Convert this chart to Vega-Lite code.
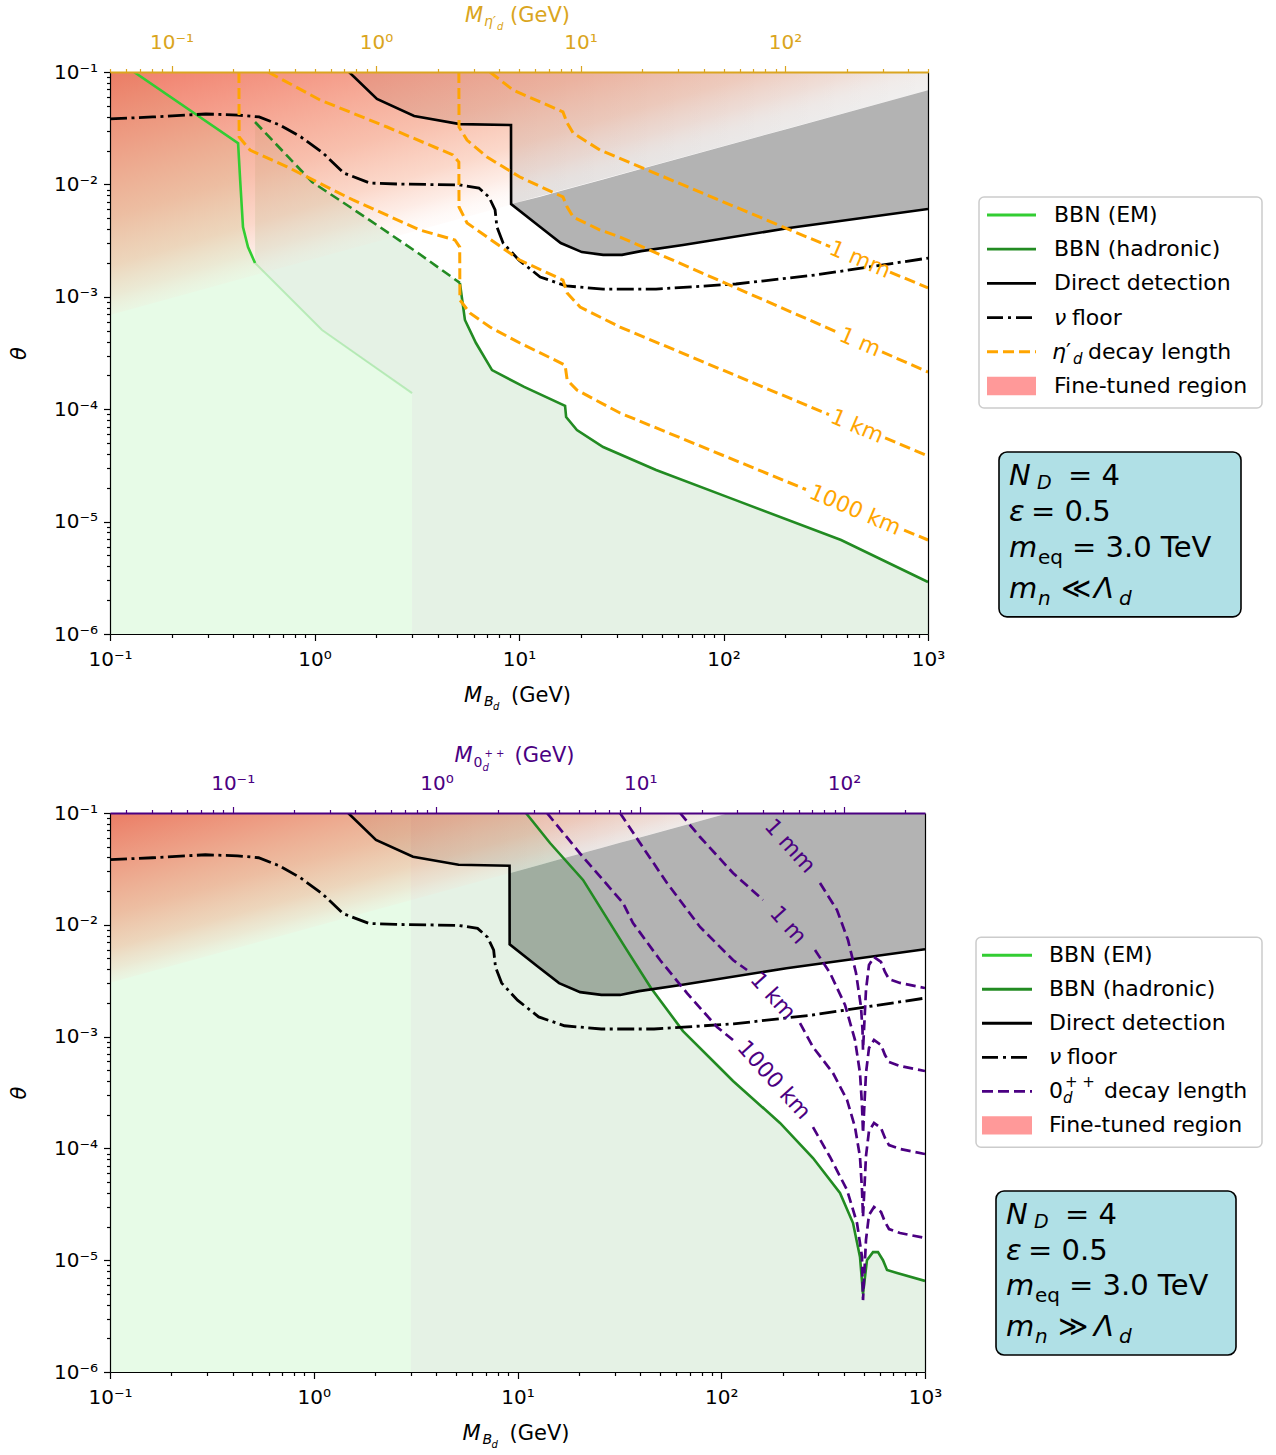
{
"$schema":"https://vega.github.io/schema/vega-lite/v6.json",
"background":"white",
"padding":{"left":8,"top":5,"right":0,"bottom":0},
"config":{"font":"DejaVu Sans","view":{"stroke":null},"axis":{"grid":false,"domainColor":"black","tickColor":"black","labelColor":"black","labelFontSize":20,"titleFontSize":21,"titleFontWeight":"normal","titleColor":"black","domainWidth":1.2,"tickWidth":1.2}},
"datasets":{
"axc":[{"m":0.1,"t":0.000001},{"m":1000,"t":0.1}],
"dd":[{"m":1.475,"t":0.1},{"m":2.02,"t":0.0575},{"m":3.07,"t":0.0406},{"m":5.14,"t":0.0344},{"m":9.14,"t":0.0337},{"m":9.15,"t":0.00669},{"m":12.7,"t":0.00418},{"m":16,"t":0.00301},{"m":20.3,"t":0.0025},{"m":25.8,"t":0.00236},{"m":31.9,"t":0.00236},{"m":39.5,"t":0.00255},{"m":63.4,"t":0.00289},{"m":209,"t":0.00409},{"m":1000,"t":0.00604}],
"nu":[{"m":0.1,"t":0.0382},{"m":0.162,"t":0.0398},{"m":0.294,"t":0.0423},{"m":0.423,"t":0.0414},{"m":0.536,"t":0.0398},{"m":0.678,"t":0.0337},{"m":0.859,"t":0.0264},{"m":1.101,"t":0.019},{"m":1.393,"t":0.0126},{"m":1.868,"t":0.01028},{"m":2.53,"t":0.01008},{"m":5.14,"t":0.00988},{"m":6.37,"t":0.00929},{"m":7.13,"t":0.00773},{"m":7.64,"t":0.00592},{"m":7.8,"t":0.00418},{"m":8.36,"t":0.00301},{"m":10,"t":0.00212},{"m":12.7,"t":0.0015},{"m":17,"t":0.00125},{"m":25.8,"t":0.00117},{"m":46.8,"t":0.00117},{"m":115,"t":0.0013},{"m":280,"t":0.00156},{"m":1000,"t":0.00221}],
"emTop":[{"m":0.131,"t":0.1},{"m":0.423,"t":0.0233},{"m":0.433,"t":0.01094},{"m":0.447,"t":0.00418},{"m":0.473,"t":0.00277},{"m":0.512,"t":0.002}],
"emFaint":[{"m":0.512,"t":0.002},{"m":1.088,"t":0.000507},{"m":3,"t":0.000139}],
"hadDash":[{"m":0.512,"t":0.0359},{"m":0.973,"t":0.0105},{"m":1.766,"t":0.00513},{"m":3.21,"t":0.00245},{"m":5.14,"t":0.00133}],
"hadSolid":[{"m":5.14,"t":0.00133},{"m":5.44,"t":0.000622},{"m":6.16,"t":0.000388},{"m":7.38,"t":0.000223},{"m":10.6,"t":0.000158},{"m":16.8,"t":0.000107},{"m":17,"t":0.0000853},{"m":19.2,"t":0.0000653},{"m":25.8,"t":0.0000461},{"m":46.8,"t":0.0000288},{"m":113.8,"t":0.0000156},{"m":375.8,"t":0.00000686},{"m":1000,"t":0.0000029}],
"aTop":[{"m":0.1,"t":0.1},{"m":0.131,"t":0.1},{"m":0.423,"t":0.0233},{"m":0.433,"t":0.01094},{"m":0.447,"t":0.00418},{"m":0.473,"t":0.00277},{"m":0.512,"t":0.002},{"m":1.088,"t":0.000507},{"m":3,"t":0.000139}],
"bTop":[{"m":0.512,"t":0.0359,"t2":0.002},{"m":0.973,"t":0.0105,"t2":0.00062},{"m":1.088,"t":0.00917,"t2":0.000507},{"m":1.766,"t":0.00513,"t2":0.00027},{"m":3,"t":0.00262,"t2":0.000139},{"m":3.001,"t":0.00262,"t2":0.000001},{"m":3.21,"t":0.00245,"t2":0.000001},{"m":5.14,"t":0.00133,"t2":0.000001},{"m":5.44,"t":0.000622,"t2":0.000001},{"m":6.16,"t":0.000388,"t2":0.000001},{"m":7.38,"t":0.000223,"t2":0.000001},{"m":10.6,"t":0.000158,"t2":0.000001},{"m":16.8,"t":0.000107,"t2":0.000001},{"m":17,"t":0.0000853,"t2":0.000001},{"m":19.2,"t":0.0000653,"t2":0.000001},{"m":25.8,"t":0.0000461,"t2":0.000001},{"m":46.8,"t":0.0000288,"t2":0.000001},{"m":113.8,"t":0.0000156,"t2":0.000001},{"m":375.8,"t":0.00000686,"t2":0.000001},{"m":1000,"t":0.0000029,"t2":0.000001}],
"glTop":[{"m":9.15,"t":0.00669,"t2":0.00669},{"m":12.7,"t":0.00418,"t2":0.00777},{"m":16,"t":0.00301,"t2":0.00872},{"m":20.3,"t":0.0025,"t2":0.00982},{"m":25.8,"t":0.00236,"t2":0.01107},{"m":31.9,"t":0.00236,"t2":0.01231},{"m":39.5,"t":0.00255,"t2":0.0137},{"m":63.4,"t":0.00289,"t2":0.01736},{"m":209,"t":0.00409,"t2":0.0315},{"m":1000,"t":0.00604,"t2":0.0689}],
"ghTop":[{"m":1.475,"t":0.1},{"m":2.02,"t":0.0575},{"m":3.07,"t":0.0406},{"m":5.14,"t":0.0344},{"m":9.14,"t":0.0337},{"m":9.15,"t":0.00669},{"m":1000,"t":0.0689}],
"ftTop":[{"m":0.1,"t":0.00069},{"m":1000,"t":0.0689}],
"orange":[
{"c":"1000km","s":"a","m":0.427,"t":0.1},{"c":"1000km","s":"a","m":0.428,"t":0.0264},{"c":"1000km","s":"a","m":0.484,"t":0.0202},{"c":"1000km","s":"a","m":0.735,"t":0.0143},{"c":"1000km","s":"a","m":1.542,"t":0.00727},{"c":"1000km","s":"a","m":3.28,"t":0.00393},{"c":"1000km","s":"a","m":4.86,"t":0.0032},{"c":"1000km","s":"a","m":5.13,"t":0.00277},{"c":"1000km","s":"a","m":5.14,"t":0.000937},{"c":"1000km","s":"a","m":5.75,"t":0.000718},{"c":"1000km","s":"a","m":7.21,"t":0.000538},{"c":"1000km","s":"a","m":10.1,"t":0.000388},{"c":"1000km","s":"a","m":16.8,"t":0.000247},{"c":"1000km","s":"a","m":17.2,"t":0.000182},{"c":"1000km","s":"a","m":19.2,"t":0.000148},{"c":"1000km","s":"a","m":31.2,"t":0.0000925},{"c":"1000km","s":"a","m":253,"t":0.0000193},
{"c":"1000km","s":"b","m":764,"t":0.0000084},{"c":"1000km","s":"b","m":1000,"t":0.00000686},
{"c":"1km","s":"a","m":0.593,"t":0.1},{"c":"1km","s":"a","m":1.064,"t":0.0564},{"c":"1km","s":"a","m":2.265,"t":0.0324},{"c":"1km","s":"a","m":4.75,"t":0.0183},{"c":"1km","s":"a","m":5.08,"t":0.0158},{"c":"1km","s":"a","m":5.09,"t":0.00629},{"c":"1km","s":"a","m":5.57,"t":0.00454},{"c":"1km","s":"a","m":6.98,"t":0.0034},{"c":"1km","s":"a","m":10.1,"t":0.00212},{"c":"1km","s":"a","m":16.4,"t":0.00141},{"c":"1km","s":"a","m":17.2,"t":0.00108},{"c":"1km","s":"a","m":19.9,"t":0.000811},{"c":"1km","s":"a","m":31.2,"t":0.000538},{"c":"1km","s":"a","m":328,"t":0.0000895},
{"c":"1km","s":"b","m":617,"t":0.0000555},{"c":"1km","s":"b","m":1000,"t":0.0000384},
{"c":"1m","s":"a","m":5.08,"t":0.1},{"c":"1m","s":"a","m":5.09,"t":0.0324},{"c":"1m","s":"a","m":5.57,"t":0.0248},{"c":"1m","s":"a","m":6.98,"t":0.0175},{"c":"1m","s":"a","m":10.1,"t":0.01163},{"c":"1m","s":"a","m":16.4,"t":0.00773},{"c":"1m","s":"a","m":17.2,"t":0.00629},{"c":"1m","s":"a","m":18.4,"t":0.00513},{"c":"1m","s":"a","m":24.9,"t":0.00393},{"c":"1m","s":"a","m":31.2,"t":0.0034},{"c":"1m","s":"a","m":363,"t":0.000481},
{"c":"1m","s":"b","m":596,"t":0.000324},{"c":"1m","s":"b","m":1000,"t":0.000214},
{"c":"1mm","s":"a","m":7.21,"t":0.1},{"c":"1mm","s":"a","m":9.35,"t":0.0692},{"c":"1mm","s":"a","m":16.4,"t":0.0441},{"c":"1mm","s":"a","m":17.2,"t":0.0352},{"c":"1mm","s":"a","m":18.4,"t":0.0286},{"c":"1mm","s":"a","m":24.9,"t":0.0202},{"c":"1mm","s":"a","m":332,"t":0.00279},
{"c":"1mm","s":"b","m":652,"t":0.00166},{"c":"1mm","s":"b","m":1000,"t":0.0012}],
"orangeLab":[{"m":465,"t":0.00215,"label":"1 mm"},{"m":465,"t":0.000396,"label":"1 m"},{"m":450,"t":0.0000705,"label":"1 km"},{"m":440,"t":0.0000127,"label":"1000 km"}],
"ftBot":[{"m":0.1,"t":0.00303},{"m":109,"t":0.1}],
"glBot":[{"m":9.15,"t":0.00669,"t2":0.0289},{"m":12.7,"t":0.00418,"t2":0.0341},{"m":16,"t":0.00301,"t2":0.0383},{"m":20.3,"t":0.0025,"t2":0.0431},{"m":25.8,"t":0.00236,"t2":0.0486},{"m":31.9,"t":0.00236,"t2":0.0541},{"m":39.5,"t":0.00255,"t2":0.0601},{"m":63.4,"t":0.00289,"t2":0.0762},{"m":109,"t":0.00339,"t2":0.1},{"m":209,"t":0.00409,"t2":0.1},{"m":1000,"t":0.00604,"t2":0.1}],
"ghBot":[{"m":1.475,"t":0.1},{"m":2.02,"t":0.0575},{"m":3.07,"t":0.0406},{"m":5.14,"t":0.0344},{"m":9.14,"t":0.0337},{"m":9.15,"t":0.0289},{"m":109,"t":0.1}],
"aBot":[{"m":0.1,"t":0.1},{"m":3,"t":0.1}],
"hadBot":[{"m":11,"t":0.1},{"m":14.44,"t":0.0539},{"m":20.97,"t":0.0252},{"m":33.7,"t":0.00632},{"m":45.2,"t":0.00272},{"m":64.9,"t":0.00112},{"m":97.5,"t":0.000535},{"m":114.2,"t":0.000401},{"m":194.2,"t":0.000169},{"m":282,"t":0.000082},{"m":382.6,"t":0.0000399},{"m":443.3,"t":0.0000215},{"m":479.7,"t":0.0000107},{"m":496.3,"t":0.00000499},{"m":519,"t":0.00001},{"m":555.6,"t":0.0000118},{"m":587.8,"t":0.0000118},{"m":622,"t":0.00001},{"m":651,"t":0.00000817},{"m":729,"t":0.00000769},{"m":1000,"t":0.00000652}],
"bBot":[{"m":3,"t":0.1},{"m":11,"t":0.1},{"m":14.44,"t":0.0539},{"m":20.97,"t":0.0252},{"m":33.7,"t":0.00632},{"m":45.2,"t":0.00272},{"m":64.9,"t":0.00112},{"m":97.5,"t":0.000535},{"m":114.2,"t":0.000401},{"m":194.2,"t":0.000169},{"m":282,"t":0.000082},{"m":382.6,"t":0.0000399},{"m":443.3,"t":0.0000215},{"m":479.7,"t":0.0000107},{"m":496.3,"t":0.00000499},{"m":519,"t":0.00001},{"m":555.6,"t":0.0000118},{"m":587.8,"t":0.0000118},{"m":622,"t":0.00001},{"m":651,"t":0.00000817},{"m":729,"t":0.00000769},{"m":1000,"t":0.00000652}],
"purple":[
{"c":"1000km","s":"a","m":13.95,"t":0.1},{"c":"1000km","s":"a","m":20.97,"t":0.0404},{"c":"1000km","s":"a","m":32.95,"t":0.01567},{"c":"1000km","s":"a","m":36.88,"t":0.01038},{"c":"1000km","s":"a","m":50.06,"t":0.00484},{"c":"1000km","s":"a","m":67.9,"t":0.00245},{"c":"1000km","s":"a","m":95.3,"t":0.00122},{"c":"1000km","s":"a","m":114.2,"t":0.000932},
{"c":"1000km","s":"b","m":282,"t":0.000155},{"c":"1000km","s":"b","m":341.8,"t":0.0000838},{"c":"1000km","s":"b","m":414.3,"t":0.0000425},{"c":"1000km","s":"b","m":463.8,"t":0.0000215},{"c":"1000km","s":"b","m":490.7,"t":0.0000107},{"c":"1000km","s":"b","m":496.3,"t":0.0000044},{"c":"1000km","s":"b","m":513.3,"t":0.0000152},{"c":"1000km","s":"b","m":531,"t":0.0000254},{"c":"1000km","s":"b","m":562,"t":0.0000299},{"c":"1000km","s":"b","m":608.1,"t":0.000027},{"c":"1000km","s":"b","m":636.3,"t":0.000022},{"c":"1000km","s":"b","m":665.7,"t":0.000019},{"c":"1000km","s":"b","m":754,"t":0.0000175},{"c":"1000km","s":"b","m":1000,"t":0.0000158},
{"c":"1km","s":"a","m":31.85,"t":0.1},{"c":"1km","s":"a","m":39.93,"t":0.0539},{"c":"1km","s":"a","m":54.16,"t":0.02365},{"c":"1km","s":"a","m":78.67,"t":0.00956},{"c":"1km","s":"a","m":114.2,"t":0.00484},{"c":"1km","s":"a","m":133.8,"t":0.00394},
{"c":"1km","s":"b","m":243.5,"t":0.00132},{"c":"1km","s":"b","m":282,"t":0.000807},{"c":"1km","s":"b","m":353.6,"t":0.000472},{"c":"1km","s":"b","m":414.3,"t":0.000271},{"c":"1km","s":"b","m":453.4,"t":0.000155},{"c":"1km","s":"b","m":479.7,"t":0.0000838},{"c":"1km","s":"b","m":490.7,"t":0.0000425},{"c":"1km","s":"b","m":496.3,"t":0.0000243},{"c":"1km","s":"b","m":513.3,"t":0.0000855},{"c":"1km","s":"b","m":531,"t":0.000143},{"c":"1km","s":"b","m":562,"t":0.000169},{"c":"1km","s":"b","m":608.1,"t":0.000152},{"c":"1km","s":"b","m":636.3,"t":0.000124},{"c":"1km","s":"b","m":665.7,"t":0.000107},{"c":"1km","s":"b","m":754,"t":0.0000988},{"c":"1km","s":"b","m":1000,"t":0.0000891},
{"c":"1m","s":"a","m":62.75,"t":0.1},{"c":"1m","s":"a","m":78.67,"t":0.061},{"c":"1m","s":"a","m":114.2,"t":0.02906},{"c":"1m","s":"a","m":160.3,"t":0.01667},
{"c":"1m","s":"b","m":288.5,"t":0.00595},{"c":"1m","s":"b","m":341.8,"t":0.00371},{"c":"1m","s":"b","m":405,"t":0.00192},{"c":"1m","s":"b","m":453.4,"t":0.000932},{"c":"1m","s":"b","m":479.7,"t":0.000472},{"c":"1m","s":"b","m":490.7,"t":0.000244},{"c":"1m","s":"b","m":496.3,"t":0.000137},{"c":"1m","s":"b","m":513.3,"t":0.000472},{"c":"1m","s":"b","m":531,"t":0.000791},{"c":"1m","s":"b","m":562,"t":0.000932},{"c":"1m","s":"b","m":608.1,"t":0.000841},{"c":"1m","s":"b","m":636.3,"t":0.000684},{"c":"1m","s":"b","m":665.7,"t":0.000593},{"c":"1m","s":"b","m":754,"t":0.000546},{"c":"1m","s":"b","m":1000,"t":0.000492},
{"c":"1mm","s":"b","m":305.2,"t":0.02365},{"c":"1mm","s":"b","m":369.9,"t":0.01356},{"c":"1mm","s":"b","m":418.9,"t":0.00731},{"c":"1mm","s":"b","m":458.6,"t":0.00371},{"c":"1mm","s":"b","m":485.2,"t":0.00184},{"c":"1mm","s":"b","m":493.5,"t":0.001146},{"c":"1mm","s":"b","m":496.3,"t":0.000759},{"c":"1mm","s":"b","m":513.3,"t":0.00261},{"c":"1mm","s":"b","m":531,"t":0.00437},{"c":"1mm","s":"b","m":562,"t":0.00515},{"c":"1mm","s":"b","m":608.1,"t":0.00465},{"c":"1mm","s":"b","m":636.3,"t":0.00378},{"c":"1mm","s":"b","m":665.7,"t":0.00327},{"c":"1mm","s":"b","m":754,"t":0.00302},{"c":"1mm","s":"b","m":1000,"t":0.00272}],
"purpleLab":[{"m":217.5,"t":0.0507,"label":"1 mm"},{"m":212.7,"t":0.00996,"label":"1 m"},{"m":179.5,"t":0.00231,"label":"1 km"},{"m":181.5,"t":0.000409,"label":"1000 km"}],
"legTop":[{"k":0,"label":"BBN (EM)"},{"k":1,"label":"BBN (hadronic)"},{"k":2,"label":"Direct detection"},{"k":5,"label":"Fine-tuned region"}]
},
"vconcat":[
{"hconcat":[
{"width":818,"height":562,
"resolve":{"scale":{"x":"independent"},"axis":{"x":"independent","y":"independent"}},
"layer":[
{"data":{"name":"axc"},"mark":{"type":"point","opacity":0},"encoding":{
"x":{"field":"m","type":"quantitative","scale":{"type":"log","domain":[0.1,1000],"nice":false},"axis":{"orient":"bottom","values":[0.1,1,10,100,1000],"labelExpr":"datum.value < 0.5 ? '10⁻¹' : datum.value < 5 ? '10⁰' : datum.value < 50 ? '10¹' : datum.value < 500 ? '10²' : '10³'","tickSize":6.5,"title":null,"labelPadding":9,"labelFlush":false,"labelOverlap":false,"zindex":1}},
"y":{"field":"t","type":"quantitative","scale":{"type":"log","domain":[0.000001,0.1],"nice":false},"axis":{"orient":"left","values":[0.000001,0.00001,0.0001,0.001,0.01,0.1],"labelExpr":"datum.value > 0.05 ? '10⁻¹' : datum.value > 0.005 ? '10⁻²' : datum.value > 0.0005 ? '10⁻³' : datum.value > 0.00005 ? '10⁻⁴' : datum.value > 0.000005 ? '10⁻⁵' : '10⁻⁶'","tickSize":6.5,"title":"θ","titleFontStyle":"italic","titlePadding":24,"labelPadding":6,"labelFlush":false,"labelOverlap":false,"zindex":1}}}},
{"data":{"name":"axc"},"mark":{"type":"point","opacity":0},"encoding":{
"x":{"field":"m","type":"quantitative","scale":{"type":"log","domain":[0.1,1000],"nice":false},"axis":{"orient":"bottom","values":[0.2,0.3,0.4,0.5,0.6,0.7,0.8,0.9,2,3,4,5,6,7,8,9,20,30,40,50,60,70,80,90,200,300,400,500,600,700,800,900],"labels":false,"domain":false,"tickSize":3.5,"title":null,"zindex":1}},
"y":{"field":"t","type":"quantitative","scale":{"type":"log"},"axis":{"orient":"left","values":[0.000002,0.000003,0.000004,0.000005,0.000006,0.000007,0.000008,0.000009,0.00002,0.00003,0.00004,0.00005,0.00006,0.00007,0.00008,0.00009,0.0002,0.0003,0.0004,0.0005,0.0006,0.0007,0.0008,0.0009,0.002,0.003,0.004,0.005,0.006,0.007,0.008,0.009,0.02,0.03,0.04,0.05,0.06,0.07,0.08,0.09],"labels":false,"domain":false,"tickSize":3.5,"title":null,"zindex":1}}}},
{"data":{"name":"axc"},"mark":{"type":"point","opacity":0},"encoding":{
"x":{"field":"m","type":"quantitative","scale":{"type":"log","domain":[0.1,1000],"nice":false},"axis":null},
"y":{"field":"t","type":"quantitative","scale":{"type":"log"},"axis":{"orient":"right","labels":false,"ticks":false,"domain":true,"title":null,"zindex":1}}}},
{"data":{"values":[{"m2":0.05},{"m2":500}]},"mark":{"type":"point","opacity":0},"encoding":{"x":{"field":"m2","type":"quantitative","scale":{"type":"log","domain":[0.05,500],"nice":false},"axis":{"orient":"top","values":[0.1,1,10,100],"labelExpr":"datum.value < 0.5 ? '10⁻¹' : datum.value < 5 ? '10⁰' : datum.value < 50 ? '10¹' : '10²'","tickSize":6.5,"title":null,"labelPadding":13,"labelFlush":false,"labelOverlap":false,"domainColor":"#daa520","tickColor":"#daa520","labelColor":"#daa520","domainWidth":2,"zindex":2}},"y":{"datum":0.1,"type":"quantitative","scale":{"type":"log"},"axis":null}}},
{"data":{"values":[{"m2":0.05},{"m2":500}]},"mark":{"type":"point","opacity":0},"encoding":{"x":{"field":"m2","type":"quantitative","scale":{"type":"log","domain":[0.05,500],"nice":false},"axis":{"orient":"top","values":[0.05,0.06,0.07,0.08,0.09,0.2,0.3,0.4,0.5,0.6,0.7,0.8,0.9,2,3,4,5,6,7,8,9,20,30,40,50,60,70,80,90,200,300,400,500],"labels":false,"domain":false,"tickSize":3.5,"title":null,"tickColor":"#daa520","zindex":2}},"y":{"datum":0.1,"type":"quantitative","scale":{"type":"log"},"axis":null}}},
{"data":{"name":"glTop"},"mark":{"type":"area","fill":"#b3b3b3","clip":true},"encoding":{"x":{"field":"m","type":"quantitative","scale":{"type":"log","domain":[0.1,1000],"nice":false},"axis":null},"y":{"field":"t","type":"quantitative","scale":{"type":"log"},"axis":null},"y2":{"field":"t2"}}},
{"data":{"name":"ghTop"},"mark":{"type":"area","clip":true,"fill":{"gradient":"linear","x1":0,"y1":0,"x2":1,"y2":0,"stops":[{"offset":0,"color":"rgba(0,0,0,0.14)"},{"offset":0.4,"color":"rgba(0,0,0,0.11)"},{"offset":1,"color":"rgba(0,0,0,0.06)"}]}},"encoding":{"x":{"field":"m","type":"quantitative","scale":{"type":"log","domain":[0.1,1000],"nice":false},"axis":null},"y":{"field":"t","type":"quantitative","scale":{"type":"log"},"axis":null},"y2":{"datum":0.1}}},
{"data":{"name":"bTop"},"mark":{"type":"area","clip":true,"fill":"rgba(0,128,0,0.1)"},"encoding":{"x":{"field":"m","type":"quantitative","scale":{"type":"log","domain":[0.1,1000],"nice":false},"axis":null},"y":{"field":"t","type":"quantitative","scale":{"type":"log"},"axis":null},"y2":{"field":"t2"}}},
{"data":{"name":"aTop"},"mark":{"type":"area","clip":true,"fill":"rgba(144,238,144,0.22)"},"encoding":{"x":{"field":"m","type":"quantitative","scale":{"type":"log","domain":[0.1,1000],"nice":false},"axis":null},"y":{"field":"t","type":"quantitative","scale":{"type":"log"},"axis":null},"y2":{"datum":0.000001}}},
{"data":{"name":"ftTop"},"mark":{"type":"area","clip":true,"fill":{"gradient":"linear","x1":0,"y1":0,"x2":1,"y2":1,"stops":[{"offset":0,"color":"rgba(236,92,68,0.8)"},{"offset":0.15,"color":"rgba(240,112,84,0.67)"},{"offset":0.3,"color":"rgba(242,135,100,0.53)"},{"offset":0.4,"color":"rgba(245,155,120,0.39)"},{"offset":0.46,"color":"rgba(248,180,155,0.25)"},{"offset":0.5,"color":"rgba(252,210,195,0.12)"},{"offset":0.55,"color":"rgba(255,235,230,0.03)"},{"offset":1,"color":"rgba(255,255,255,0)"}]}},"encoding":{"x":{"field":"m","type":"quantitative","scale":{"type":"log","domain":[0.1,1000],"nice":false},"axis":null},"y":{"field":"t","type":"quantitative","scale":{"type":"log"},"axis":null},"y2":{"datum":0.1}}},
{"data":{"name":"emFaint"},"mark":{"type":"line","clip":true,"color":"#32cd32","opacity":0.25,"strokeWidth":2},"encoding":{"x":{"field":"m","type":"quantitative","scale":{"type":"log","domain":[0.1,1000],"nice":false},"axis":null},"y":{"field":"t","type":"quantitative","scale":{"type":"log"},"axis":null}}},
{"data":{"name":"hadDash"},"mark":{"type":"line","clip":true,"color":"#228b22","strokeWidth":2.6,"strokeDash":[10,5]},"encoding":{"x":{"field":"m","type":"quantitative","scale":{"type":"log","domain":[0.1,1000],"nice":false},"axis":null},"y":{"field":"t","type":"quantitative","scale":{"type":"log"},"axis":null}}},
{"data":{"name":"hadSolid"},"mark":{"type":"line","clip":true,"color":"#228b22","strokeWidth":2.6},"encoding":{"x":{"field":"m","type":"quantitative","scale":{"type":"log","domain":[0.1,1000],"nice":false},"axis":null},"y":{"field":"t","type":"quantitative","scale":{"type":"log"},"axis":null}}},
{"data":{"name":"emTop"},"mark":{"type":"line","clip":true,"color":"#32cd32","strokeWidth":2.6},"encoding":{"x":{"field":"m","type":"quantitative","scale":{"type":"log","domain":[0.1,1000],"nice":false},"axis":null},"y":{"field":"t","type":"quantitative","scale":{"type":"log"},"axis":null}}},
{"data":{"name":"dd"},"mark":{"type":"line","clip":true,"color":"black","strokeWidth":2.6},"encoding":{"x":{"field":"m","type":"quantitative","scale":{"type":"log","domain":[0.1,1000],"nice":false},"axis":null},"y":{"field":"t","type":"quantitative","scale":{"type":"log"},"axis":null}}},
{"data":{"name":"nu"},"mark":{"type":"line","clip":true,"color":"black","strokeWidth":2.8,"strokeDash":[17,4.5,3,4.5]},"encoding":{"x":{"field":"m","type":"quantitative","scale":{"type":"log","domain":[0.1,1000],"nice":false},"axis":null},"y":{"field":"t","type":"quantitative","scale":{"type":"log"},"axis":null}}},
{"data":{"name":"orange"},"mark":{"type":"line","clip":true,"color":"#ffa500","strokeWidth":3,"strokeDash":[11,5]},"encoding":{"x":{"field":"m","type":"quantitative","scale":{"type":"log","domain":[0.1,1000],"nice":false},"axis":null},"y":{"field":"t","type":"quantitative","scale":{"type":"log"},"axis":null},"detail":[{"field":"c"},{"field":"s"}]}},
{"data":{"name":"orangeLab"},"mark":{"type":"text","color":"#ffa500","fontSize":22,"angle":23,"align":"center","baseline":"middle"},"encoding":{"x":{"field":"m","type":"quantitative","scale":{"type":"log","domain":[0.1,1000],"nice":false},"axis":null},"y":{"field":"t","type":"quantitative","scale":{"type":"log"},"axis":null},"text":{"field":"label"}}},
{"data":{"values":[{}]},"mark":{"type":"text","text":"M","fontStyle":"italic","fontSize":21,"align":"left","baseline":"alphabetic","dx":-55,"dy":68},"encoding":{"x":{"datum":10,"type":"quantitative","scale":{"type":"log","domain":[0.1,1000],"nice":false},"axis":null},"y":{"datum":0.000001,"type":"quantitative","scale":{"type":"log"},"axis":null}}},
{"data":{"values":[{}]},"mark":{"type":"text","text":"B","fontStyle":"italic","fontSize":14,"align":"left","baseline":"alphabetic","dx":-35,"dy":72},"encoding":{"x":{"datum":10,"type":"quantitative","scale":{"type":"log","domain":[0.1,1000],"nice":false},"axis":null},"y":{"datum":0.000001,"type":"quantitative","scale":{"type":"log"},"axis":null}}},
{"data":{"values":[{}]},"mark":{"type":"text","text":"d","fontStyle":"italic","fontSize":10,"align":"left","baseline":"alphabetic","dx":-26,"dy":76},"encoding":{"x":{"datum":10,"type":"quantitative","scale":{"type":"log","domain":[0.1,1000],"nice":false},"axis":null},"y":{"datum":0.000001,"type":"quantitative","scale":{"type":"log"},"axis":null}}},
{"data":{"values":[{}]},"mark":{"type":"text","text":"(GeV)","fontSize":21,"align":"left","baseline":"alphabetic","dx":-8,"dy":68},"encoding":{"x":{"datum":10,"type":"quantitative","scale":{"type":"log","domain":[0.1,1000],"nice":false},"axis":null},"y":{"datum":0.000001,"type":"quantitative","scale":{"type":"log"},"axis":null}}},
{"data":{"values":[{}]},"mark":{"type":"text","text":"M","color":"#daa520","fontStyle":"italic","fontSize":21,"align":"left","baseline":"alphabetic","dx":-54,"dy":-50},"encoding":{"x":{"datum":10,"type":"quantitative","scale":{"type":"log","domain":[0.1,1000],"nice":false},"axis":null},"y":{"datum":0.1,"type":"quantitative","scale":{"type":"log"},"axis":null}}},
{"data":{"values":[{}]},"mark":{"type":"text","text":"η′","color":"#daa520","fontStyle":"italic","fontSize":14,"align":"left","baseline":"alphabetic","dx":-35,"dy":-46},"encoding":{"x":{"datum":10,"type":"quantitative","scale":{"type":"log","domain":[0.1,1000],"nice":false},"axis":null},"y":{"datum":0.1,"type":"quantitative","scale":{"type":"log"},"axis":null}}},
{"data":{"values":[{}]},"mark":{"type":"text","text":"d","color":"#daa520","fontStyle":"italic","fontSize":10,"align":"left","baseline":"alphabetic","dx":-22,"dy":-42},"encoding":{"x":{"datum":10,"type":"quantitative","scale":{"type":"log","domain":[0.1,1000],"nice":false},"axis":null},"y":{"datum":0.1,"type":"quantitative","scale":{"type":"log"},"axis":null}}},
{"data":{"values":[{}]},"mark":{"type":"text","text":"(GeV)","color":"#daa520","fontSize":21,"align":"left","baseline":"alphabetic","dx":-9,"dy":-50},"encoding":{"x":{"datum":10,"type":"quantitative","scale":{"type":"log","domain":[0.1,1000],"nice":false},"axis":null},"y":{"datum":0.1,"type":"quantitative","scale":{"type":"log"},"axis":null}}}
]},
{"width":330,"height":562,
"layer":[
{"data":{"values":[{}]},"mark":{"type":"rect","fill":"white","stroke":"#cccccc","strokeWidth":1.5,"cornerRadius":5},"encoding":{"x":{"datum":34,"type":"quantitative","scale":{"domain":[0,330],"nice":false,"zero":false},"axis":null},"x2":{"datum":317},"y":{"datum":-0.526,"type":"quantitative","scale":{"domain":[-4.181,12.251],"nice":false,"zero":false,"reverse":true},"axis":null},"y2":{"datum":5.643}}},
{"data":{"values":[{}]},"mark":{"type":"rule","color":"#32cd32","strokeWidth":2.8},"encoding":{"x":{"datum":42,"type":"quantitative"},"x2":{"datum":91},"y":{"datum":0,"type":"quantitative"}}},
{"data":{"values":[{}]},"mark":{"type":"rule","color":"#228b22","strokeWidth":2.8},"encoding":{"x":{"datum":42,"type":"quantitative"},"x2":{"datum":91},"y":{"datum":1,"type":"quantitative"}}},
{"data":{"values":[{}]},"mark":{"type":"rule","color":"black","strokeWidth":2.8},"encoding":{"x":{"datum":42,"type":"quantitative"},"x2":{"datum":91},"y":{"datum":2,"type":"quantitative"}}},
{"data":{"values":[{}]},"mark":{"type":"rule","color":"black","strokeWidth":2.8,"strokeDash":[16,5,3,5]},"encoding":{"x":{"datum":42,"type":"quantitative"},"x2":{"datum":91},"y":{"datum":3,"type":"quantitative"}}},
{"data":{"values":[{}]},"mark":{"type":"rule","color":"#ffa500","strokeWidth":3,"strokeDash":[11,5]},"encoding":{"x":{"datum":42,"type":"quantitative"},"x2":{"datum":91},"y":{"datum":4,"type":"quantitative"}}},
{"data":{"values":[{}]},"mark":{"type":"rect","fill":"#ff9999"},"encoding":{"x":{"datum":42,"type":"quantitative"},"x2":{"datum":91},"y":{"datum":4.73,"type":"quantitative"},"y2":{"datum":5.27}}},
{"data":{"name":"legTop"},"mark":{"type":"text","fontSize":22,"align":"left","baseline":"middle"},"encoding":{"x":{"datum":109,"type":"quantitative"},"y":{"field":"k","type":"quantitative"},"text":{"field":"label"}}},
{"data":{"values":[{}]},"mark":{"type":"text","text":"ν","fontStyle":"italic","fontSize":22,"align":"left","baseline":"middle"},"encoding":{"x":{"datum":109,"type":"quantitative"},"y":{"datum":3,"type":"quantitative"}}},
{"data":{"values":[{}]},"mark":{"type":"text","text":"floor","fontSize":22,"align":"left","baseline":"middle"},"encoding":{"x":{"datum":127,"type":"quantitative"},"y":{"datum":3,"type":"quantitative"}}},
{"data":{"values":[{}]},"mark":{"type":"text","text":"η","fontStyle":"italic","fontSize":22,"align":"left","baseline":"middle"},"encoding":{"x":{"datum":107,"type":"quantitative"},"y":{"datum":4,"type":"quantitative"}}},
{"data":{"values":[{}]},"mark":{"type":"text","text":"′","fontSize":22,"align":"left","baseline":"middle"},"encoding":{"x":{"datum":121,"type":"quantitative"},"y":{"datum":4,"type":"quantitative"}}},
{"data":{"values":[{}]},"mark":{"type":"text","text":"d","fontStyle":"italic","fontSize":15,"align":"left","baseline":"middle","dy":7},"encoding":{"x":{"datum":128,"type":"quantitative"},"y":{"datum":4,"type":"quantitative"}}},
{"data":{"values":[{}]},"mark":{"type":"text","text":"decay length","fontSize":22,"align":"left","baseline":"middle"},"encoding":{"x":{"datum":143,"type":"quantitative"},"y":{"datum":4,"type":"quantitative"}}},
{"data":{"values":[{}]},"mark":{"type":"rect","fill":"#b0e0e6","stroke":"black","strokeWidth":1.6,"cornerRadius":8},"encoding":{"x":{"datum":54,"type":"quantitative"},"x2":{"datum":296},"y":{"datum":6.93,"type":"quantitative"},"y2":{"datum":11.75}}},
{"data":{"values":[{}]},"mark":{"type":"text","text":"N","fontStyle":"italic","fontSize":29,"align":"left","baseline":"alphabetic"},"encoding":{"x":{"datum":64,"type":"quantitative"},"y":{"datum":7.895,"type":"quantitative"}}},
{"data":{"values":[{}]},"mark":{"type":"text","text":"D","fontStyle":"italic","fontSize":19,"align":"left","baseline":"alphabetic","dy":4},"encoding":{"x":{"datum":92,"type":"quantitative"},"y":{"datum":7.895,"type":"quantitative"}}},
{"data":{"values":[{}]},"mark":{"type":"text","text":"= 4","fontSize":29,"align":"left","baseline":"alphabetic"},"encoding":{"x":{"datum":123,"type":"quantitative"},"y":{"datum":7.895,"type":"quantitative"}}},
{"data":{"values":[{}]},"mark":{"type":"text","text":"ε","fontStyle":"italic","fontSize":29,"align":"left","baseline":"alphabetic"},"encoding":{"x":{"datum":64,"type":"quantitative"},"y":{"datum":8.95,"type":"quantitative"}}},
{"data":{"values":[{}]},"mark":{"type":"text","text":"= 0.5","fontSize":29,"align":"left","baseline":"alphabetic"},"encoding":{"x":{"datum":86,"type":"quantitative"},"y":{"datum":8.95,"type":"quantitative"}}},
{"data":{"values":[{}]},"mark":{"type":"text","text":"m","fontStyle":"italic","fontSize":29,"align":"left","baseline":"alphabetic"},"encoding":{"x":{"datum":64,"type":"quantitative"},"y":{"datum":10.0,"type":"quantitative"}}},
{"data":{"values":[{}]},"mark":{"type":"text","text":"eq","fontSize":20,"align":"left","baseline":"alphabetic","dy":7},"encoding":{"x":{"datum":93,"type":"quantitative"},"y":{"datum":10.0,"type":"quantitative"}}},
{"data":{"values":[{}]},"mark":{"type":"text","text":"= 3.0 TeV","fontSize":29,"align":"left","baseline":"alphabetic"},"encoding":{"x":{"datum":127,"type":"quantitative"},"y":{"datum":10.0,"type":"quantitative"}}},
{"data":{"values":[{}]},"mark":{"type":"text","text":"m","fontStyle":"italic","fontSize":29,"align":"left","baseline":"alphabetic"},"encoding":{"x":{"datum":64,"type":"quantitative"},"y":{"datum":11.2,"type":"quantitative"}}},
{"data":{"values":[{}]},"mark":{"type":"text","text":"n","fontStyle":"italic","fontSize":20,"align":"left","baseline":"alphabetic","dy":7},"encoding":{"x":{"datum":93,"type":"quantitative"},"y":{"datum":11.2,"type":"quantitative"}}},
{"data":{"values":[{}]},"mark":{"type":"text","text":"≪","fontSize":29,"align":"left","baseline":"alphabetic"},"encoding":{"x":{"datum":116,"type":"quantitative"},"y":{"datum":11.2,"type":"quantitative"}}},
{"data":{"values":[{}]},"mark":{"type":"text","text":"Λ","fontStyle":"italic","fontSize":29,"align":"left","baseline":"alphabetic"},"encoding":{"x":{"datum":149,"type":"quantitative"},"y":{"datum":11.2,"type":"quantitative"}}},
{"data":{"values":[{}]},"mark":{"type":"text","text":"d","fontStyle":"italic","fontSize":20,"align":"left","baseline":"alphabetic","dy":7},"encoding":{"x":{"datum":174,"type":"quantitative"},"y":{"datum":11.2,"type":"quantitative"}}}
]}
],"spacing":0},
{"hconcat":[
{"width":815,"height":559,
"resolve":{"scale":{"x":"independent"},"axis":{"x":"independent","y":"independent"}},
"layer":[
{"data":{"name":"axc"},"mark":{"type":"point","opacity":0},"encoding":{
"x":{"field":"m","type":"quantitative","scale":{"type":"log","domain":[0.1,1000],"nice":false},"axis":{"orient":"bottom","values":[0.1,1,10,100,1000],"labelExpr":"datum.value < 0.5 ? '10⁻¹' : datum.value < 5 ? '10⁰' : datum.value < 50 ? '10¹' : datum.value < 500 ? '10²' : '10³'","tickSize":6.5,"title":null,"labelPadding":9,"labelFlush":false,"labelOverlap":false,"zindex":1}},
"y":{"field":"t","type":"quantitative","scale":{"type":"log","domain":[0.000001,0.1],"nice":false},"axis":{"orient":"left","values":[0.000001,0.00001,0.0001,0.001,0.01,0.1],"labelExpr":"datum.value > 0.05 ? '10⁻¹' : datum.value > 0.005 ? '10⁻²' : datum.value > 0.0005 ? '10⁻³' : datum.value > 0.00005 ? '10⁻⁴' : datum.value > 0.000005 ? '10⁻⁵' : '10⁻⁶'","tickSize":6.5,"title":"θ","titleFontStyle":"italic","titlePadding":24,"labelPadding":6,"labelFlush":false,"labelOverlap":false,"zindex":1}}}},
{"data":{"name":"axc"},"mark":{"type":"point","opacity":0},"encoding":{
"x":{"field":"m","type":"quantitative","scale":{"type":"log","domain":[0.1,1000],"nice":false},"axis":{"orient":"bottom","values":[0.2,0.3,0.4,0.5,0.6,0.7,0.8,0.9,2,3,4,5,6,7,8,9,20,30,40,50,60,70,80,90,200,300,400,500,600,700,800,900],"labels":false,"domain":false,"tickSize":3.5,"title":null,"zindex":1}},
"y":{"field":"t","type":"quantitative","scale":{"type":"log"},"axis":{"orient":"left","values":[0.000002,0.000003,0.000004,0.000005,0.000006,0.000007,0.000008,0.000009,0.00002,0.00003,0.00004,0.00005,0.00006,0.00007,0.00008,0.00009,0.0002,0.0003,0.0004,0.0005,0.0006,0.0007,0.0008,0.0009,0.002,0.003,0.004,0.005,0.006,0.007,0.008,0.009,0.02,0.03,0.04,0.05,0.06,0.07,0.08,0.09],"labels":false,"domain":false,"tickSize":3.5,"title":null,"zindex":1}}}},
{"data":{"name":"axc"},"mark":{"type":"point","opacity":0},"encoding":{
"x":{"field":"m","type":"quantitative","scale":{"type":"log","domain":[0.1,1000],"nice":false},"axis":null},
"y":{"field":"t","type":"quantitative","scale":{"type":"log"},"axis":{"orient":"right","labels":false,"ticks":false,"domain":true,"title":null,"zindex":1}}}},
{"data":{"values":[{"m2":0.025},{"m2":250}]},"mark":{"type":"point","opacity":0},"encoding":{"x":{"field":"m2","type":"quantitative","scale":{"type":"log","domain":[0.025,250],"nice":false},"axis":{"orient":"top","values":[0.1,1,10,100],"labelExpr":"datum.value < 0.5 ? '10⁻¹' : datum.value < 5 ? '10⁰' : datum.value < 50 ? '10¹' : '10²'","tickSize":6.5,"title":null,"labelPadding":13,"labelFlush":false,"labelOverlap":false,"domainColor":"#4b0082","tickColor":"#4b0082","labelColor":"#4b0082","domainWidth":2,"zindex":2}},"y":{"datum":0.1,"type":"quantitative","scale":{"type":"log"},"axis":null}}},
{"data":{"values":[{"m2":0.025},{"m2":250}]},"mark":{"type":"point","opacity":0},"encoding":{"x":{"field":"m2","type":"quantitative","scale":{"type":"log","domain":[0.025,250],"nice":false},"axis":{"orient":"top","values":[0.03,0.04,0.05,0.06,0.07,0.08,0.09,0.2,0.3,0.4,0.5,0.6,0.7,0.8,0.9,2,3,4,5,6,7,8,9,20,30,40,50,60,70,80,90,200],"labels":false,"domain":false,"tickSize":3.5,"title":null,"tickColor":"#4b0082","zindex":2}},"y":{"datum":0.1,"type":"quantitative","scale":{"type":"log"},"axis":null}}},
{"data":{"name":"glBot"},"mark":{"type":"area","fill":"#b3b3b3","clip":true},"encoding":{"x":{"field":"m","type":"quantitative","scale":{"type":"log","domain":[0.1,1000],"nice":false},"axis":null},"y":{"field":"t","type":"quantitative","scale":{"type":"log"},"axis":null},"y2":{"field":"t2"}}},
{"data":{"name":"ghBot"},"mark":{"type":"area","clip":true,"fill":{"gradient":"linear","x1":0,"y1":0,"x2":1,"y2":0,"stops":[{"offset":0,"color":"rgba(0,0,0,0.14)"},{"offset":0.4,"color":"rgba(0,0,0,0.11)"},{"offset":1,"color":"rgba(0,0,0,0.06)"}]}},"encoding":{"x":{"field":"m","type":"quantitative","scale":{"type":"log","domain":[0.1,1000],"nice":false},"axis":null},"y":{"field":"t","type":"quantitative","scale":{"type":"log"},"axis":null},"y2":{"datum":0.1}}},
{"data":{"name":"aBot"},"mark":{"type":"area","clip":true,"fill":"rgba(144,238,144,0.22)"},"encoding":{"x":{"field":"m","type":"quantitative","scale":{"type":"log","domain":[0.1,1000],"nice":false},"axis":null},"y":{"field":"t","type":"quantitative","scale":{"type":"log"},"axis":null},"y2":{"datum":0.000001}}},
{"data":{"name":"bBot"},"mark":{"type":"area","clip":true,"fill":"rgba(0,128,0,0.1)"},"encoding":{"x":{"field":"m","type":"quantitative","scale":{"type":"log","domain":[0.1,1000],"nice":false},"axis":null},"y":{"field":"t","type":"quantitative","scale":{"type":"log"},"axis":null},"y2":{"datum":0.000001}}},
{"data":{"name":"ftBot"},"mark":{"type":"area","clip":true,"fill":{"gradient":"linear","x1":0,"y1":0,"x2":1,"y2":1,"stops":[{"offset":0,"color":"rgba(236,92,68,0.8)"},{"offset":0.15,"color":"rgba(240,112,84,0.67)"},{"offset":0.3,"color":"rgba(242,135,100,0.53)"},{"offset":0.4,"color":"rgba(245,155,120,0.39)"},{"offset":0.46,"color":"rgba(248,180,155,0.25)"},{"offset":0.5,"color":"rgba(252,210,195,0.12)"},{"offset":0.55,"color":"rgba(255,235,230,0.03)"},{"offset":1,"color":"rgba(255,255,255,0)"}]}},"encoding":{"x":{"field":"m","type":"quantitative","scale":{"type":"log","domain":[0.1,1000],"nice":false},"axis":null},"y":{"field":"t","type":"quantitative","scale":{"type":"log"},"axis":null},"y2":{"datum":0.1}}},
{"data":{"name":"hadBot"},"mark":{"type":"line","clip":true,"color":"#228b22","strokeWidth":2.6},"encoding":{"x":{"field":"m","type":"quantitative","scale":{"type":"log","domain":[0.1,1000],"nice":false},"axis":null},"y":{"field":"t","type":"quantitative","scale":{"type":"log"},"axis":null}}},
{"data":{"name":"dd"},"mark":{"type":"line","clip":true,"color":"black","strokeWidth":2.6},"encoding":{"x":{"field":"m","type":"quantitative","scale":{"type":"log","domain":[0.1,1000],"nice":false},"axis":null},"y":{"field":"t","type":"quantitative","scale":{"type":"log"},"axis":null}}},
{"data":{"name":"nu"},"mark":{"type":"line","clip":true,"color":"black","strokeWidth":2.8,"strokeDash":[17,4.5,3,4.5]},"encoding":{"x":{"field":"m","type":"quantitative","scale":{"type":"log","domain":[0.1,1000],"nice":false},"axis":null},"y":{"field":"t","type":"quantitative","scale":{"type":"log"},"axis":null}}},
{"data":{"name":"purple"},"mark":{"type":"line","clip":true,"color":"#4b0082","strokeWidth":2.7,"strokeDash":[10,5]},"encoding":{"x":{"field":"m","type":"quantitative","scale":{"type":"log","domain":[0.1,1000],"nice":false},"axis":null},"y":{"field":"t","type":"quantitative","scale":{"type":"log"},"axis":null},"detail":[{"field":"c"},{"field":"s"}]}},
{"data":{"name":"purpleLab"},"mark":{"type":"text","color":"#4b0082","fontSize":22,"angle":48,"align":"center","baseline":"middle"},"encoding":{"x":{"field":"m","type":"quantitative","scale":{"type":"log","domain":[0.1,1000],"nice":false},"axis":null},"y":{"field":"t","type":"quantitative","scale":{"type":"log"},"axis":null},"text":{"field":"label"}}},
{"data":{"values":[{}]},"mark":{"type":"text","text":"M","fontStyle":"italic","fontSize":21,"align":"left","baseline":"alphabetic","dx":-55,"dy":68},"encoding":{"x":{"datum":10,"type":"quantitative","scale":{"type":"log","domain":[0.1,1000],"nice":false},"axis":null},"y":{"datum":0.000001,"type":"quantitative","scale":{"type":"log"},"axis":null}}},
{"data":{"values":[{}]},"mark":{"type":"text","text":"B","fontStyle":"italic","fontSize":14,"align":"left","baseline":"alphabetic","dx":-35,"dy":72},"encoding":{"x":{"datum":10,"type":"quantitative","scale":{"type":"log","domain":[0.1,1000],"nice":false},"axis":null},"y":{"datum":0.000001,"type":"quantitative","scale":{"type":"log"},"axis":null}}},
{"data":{"values":[{}]},"mark":{"type":"text","text":"d","fontStyle":"italic","fontSize":10,"align":"left","baseline":"alphabetic","dx":-26,"dy":76},"encoding":{"x":{"datum":10,"type":"quantitative","scale":{"type":"log","domain":[0.1,1000],"nice":false},"axis":null},"y":{"datum":0.000001,"type":"quantitative","scale":{"type":"log"},"axis":null}}},
{"data":{"values":[{}]},"mark":{"type":"text","text":"(GeV)","fontSize":21,"align":"left","baseline":"alphabetic","dx":-8,"dy":68},"encoding":{"x":{"datum":10,"type":"quantitative","scale":{"type":"log","domain":[0.1,1000],"nice":false},"axis":null},"y":{"datum":0.000001,"type":"quantitative","scale":{"type":"log"},"axis":null}}},
{"data":{"values":[{}]},"mark":{"type":"text","text":"M","color":"#4b0082","fontStyle":"italic","fontSize":21,"align":"left","baseline":"alphabetic","dx":-63,"dy":-51},"encoding":{"x":{"datum":10,"type":"quantitative","scale":{"type":"log","domain":[0.1,1000],"nice":false},"axis":null},"y":{"datum":0.1,"type":"quantitative","scale":{"type":"log"},"axis":null}}},
{"data":{"values":[{}]},"mark":{"type":"text","text":"0","color":"#4b0082","fontSize":14,"align":"left","baseline":"alphabetic","dx":-44,"dy":-46},"encoding":{"x":{"datum":10,"type":"quantitative","scale":{"type":"log","domain":[0.1,1000],"nice":false},"axis":null},"y":{"datum":0.1,"type":"quantitative","scale":{"type":"log"},"axis":null}}},
{"data":{"values":[{}]},"mark":{"type":"text","text":"d","color":"#4b0082","fontStyle":"italic","fontSize":10,"align":"left","baseline":"alphabetic","dx":-35,"dy":-42},"encoding":{"x":{"datum":10,"type":"quantitative","scale":{"type":"log","domain":[0.1,1000],"nice":false},"axis":null},"y":{"datum":0.1,"type":"quantitative","scale":{"type":"log"},"axis":null}}},
{"data":{"values":[{}]},"mark":{"type":"text","text":"+ +","color":"#4b0082","fontSize":10,"align":"left","baseline":"alphabetic","dx":-33,"dy":-56},"encoding":{"x":{"datum":10,"type":"quantitative","scale":{"type":"log","domain":[0.1,1000],"nice":false},"axis":null},"y":{"datum":0.1,"type":"quantitative","scale":{"type":"log"},"axis":null}}},
{"data":{"values":[{}]},"mark":{"type":"text","text":"(GeV)","color":"#4b0082","fontSize":21,"align":"left","baseline":"alphabetic","dx":-3,"dy":-51},"encoding":{"x":{"datum":10,"type":"quantitative","scale":{"type":"log","domain":[0.1,1000],"nice":false},"axis":null},"y":{"datum":0.1,"type":"quantitative","scale":{"type":"log"},"axis":null}}}
]},
{"width":330,"height":559,
"layer":[
{"data":{"values":[{}]},"mark":{"type":"rect","fill":"white","stroke":"#cccccc","strokeWidth":1.5,"cornerRadius":5},"encoding":{"x":{"datum":34,"type":"quantitative","scale":{"domain":[0,330],"nice":false,"zero":false},"axis":null},"x2":{"datum":320},"y":{"datum":-0.526,"type":"quantitative","scale":{"domain":[-4.181,12.251],"nice":false,"zero":false,"reverse":true},"axis":null},"y2":{"datum":5.643}}},
{"data":{"values":[{}]},"mark":{"type":"rule","color":"#32cd32","strokeWidth":2.8},"encoding":{"x":{"datum":40,"type":"quantitative"},"x2":{"datum":90},"y":{"datum":0,"type":"quantitative"}}},
{"data":{"values":[{}]},"mark":{"type":"rule","color":"#228b22","strokeWidth":2.8},"encoding":{"x":{"datum":40,"type":"quantitative"},"x2":{"datum":90},"y":{"datum":1,"type":"quantitative"}}},
{"data":{"values":[{}]},"mark":{"type":"rule","color":"black","strokeWidth":2.8},"encoding":{"x":{"datum":40,"type":"quantitative"},"x2":{"datum":90},"y":{"datum":2,"type":"quantitative"}}},
{"data":{"values":[{}]},"mark":{"type":"rule","color":"black","strokeWidth":2.8,"strokeDash":[16,5,3,5]},"encoding":{"x":{"datum":40,"type":"quantitative"},"x2":{"datum":90},"y":{"datum":3,"type":"quantitative"}}},
{"data":{"values":[{}]},"mark":{"type":"rule","color":"#4b0082","strokeWidth":2.8,"strokeDash":[11,5]},"encoding":{"x":{"datum":40,"type":"quantitative"},"x2":{"datum":90},"y":{"datum":4,"type":"quantitative"}}},
{"data":{"values":[{}]},"mark":{"type":"rect","fill":"#ff9999"},"encoding":{"x":{"datum":40,"type":"quantitative"},"x2":{"datum":90},"y":{"datum":4.73,"type":"quantitative"},"y2":{"datum":5.27}}},
{"data":{"name":"legTop"},"mark":{"type":"text","fontSize":22,"align":"left","baseline":"middle"},"encoding":{"x":{"datum":107,"type":"quantitative"},"y":{"field":"k","type":"quantitative"},"text":{"field":"label"}}},
{"data":{"values":[{}]},"mark":{"type":"text","text":"ν","fontStyle":"italic","fontSize":22,"align":"left","baseline":"middle"},"encoding":{"x":{"datum":107,"type":"quantitative"},"y":{"datum":3,"type":"quantitative"}}},
{"data":{"values":[{}]},"mark":{"type":"text","text":"floor","fontSize":22,"align":"left","baseline":"middle"},"encoding":{"x":{"datum":125,"type":"quantitative"},"y":{"datum":3,"type":"quantitative"}}},
{"data":{"values":[{}]},"mark":{"type":"text","text":"0","fontSize":22,"align":"left","baseline":"middle"},"encoding":{"x":{"datum":107,"type":"quantitative"},"y":{"datum":4,"type":"quantitative"}}},
{"data":{"values":[{}]},"mark":{"type":"text","text":"d","fontStyle":"italic","fontSize":15,"align":"left","baseline":"middle","dy":7},"encoding":{"x":{"datum":121,"type":"quantitative"},"y":{"datum":4,"type":"quantitative"}}},
{"data":{"values":[{}]},"mark":{"type":"text","text":"+ +","fontSize":15,"align":"left","baseline":"middle","dy":-9},"encoding":{"x":{"datum":123,"type":"quantitative"},"y":{"datum":4,"type":"quantitative"}}},
{"data":{"values":[{}]},"mark":{"type":"text","text":"decay length","fontSize":22,"align":"left","baseline":"middle"},"encoding":{"x":{"datum":162,"type":"quantitative"},"y":{"datum":4,"type":"quantitative"}}},
{"data":{"values":[{}]},"mark":{"type":"rect","fill":"#b0e0e6","stroke":"black","strokeWidth":1.6,"cornerRadius":8},"encoding":{"x":{"datum":54,"type":"quantitative"},"x2":{"datum":294},"y":{"datum":6.93,"type":"quantitative"},"y2":{"datum":11.75}}},
{"data":{"values":[{}]},"mark":{"type":"text","text":"N","fontStyle":"italic","fontSize":29,"align":"left","baseline":"alphabetic"},"encoding":{"x":{"datum":64,"type":"quantitative"},"y":{"datum":7.895,"type":"quantitative"}}},
{"data":{"values":[{}]},"mark":{"type":"text","text":"D","fontStyle":"italic","fontSize":19,"align":"left","baseline":"alphabetic","dy":4},"encoding":{"x":{"datum":92,"type":"quantitative"},"y":{"datum":7.895,"type":"quantitative"}}},
{"data":{"values":[{}]},"mark":{"type":"text","text":"= 4","fontSize":29,"align":"left","baseline":"alphabetic"},"encoding":{"x":{"datum":123,"type":"quantitative"},"y":{"datum":7.895,"type":"quantitative"}}},
{"data":{"values":[{}]},"mark":{"type":"text","text":"ε","fontStyle":"italic","fontSize":29,"align":"left","baseline":"alphabetic"},"encoding":{"x":{"datum":64,"type":"quantitative"},"y":{"datum":8.95,"type":"quantitative"}}},
{"data":{"values":[{}]},"mark":{"type":"text","text":"= 0.5","fontSize":29,"align":"left","baseline":"alphabetic"},"encoding":{"x":{"datum":86,"type":"quantitative"},"y":{"datum":8.95,"type":"quantitative"}}},
{"data":{"values":[{}]},"mark":{"type":"text","text":"m","fontStyle":"italic","fontSize":29,"align":"left","baseline":"alphabetic"},"encoding":{"x":{"datum":64,"type":"quantitative"},"y":{"datum":10.0,"type":"quantitative"}}},
{"data":{"values":[{}]},"mark":{"type":"text","text":"eq","fontSize":20,"align":"left","baseline":"alphabetic","dy":7},"encoding":{"x":{"datum":93,"type":"quantitative"},"y":{"datum":10.0,"type":"quantitative"}}},
{"data":{"values":[{}]},"mark":{"type":"text","text":"= 3.0 TeV","fontSize":29,"align":"left","baseline":"alphabetic"},"encoding":{"x":{"datum":127,"type":"quantitative"},"y":{"datum":10.0,"type":"quantitative"}}},
{"data":{"values":[{}]},"mark":{"type":"text","text":"m","fontStyle":"italic","fontSize":29,"align":"left","baseline":"alphabetic"},"encoding":{"x":{"datum":64,"type":"quantitative"},"y":{"datum":11.2,"type":"quantitative"}}},
{"data":{"values":[{}]},"mark":{"type":"text","text":"n","fontStyle":"italic","fontSize":20,"align":"left","baseline":"alphabetic","dy":7},"encoding":{"x":{"datum":93,"type":"quantitative"},"y":{"datum":11.2,"type":"quantitative"}}},
{"data":{"values":[{}]},"mark":{"type":"text","text":"≫","fontSize":29,"align":"left","baseline":"alphabetic"},"encoding":{"x":{"datum":116,"type":"quantitative"},"y":{"datum":11.2,"type":"quantitative"}}},
{"data":{"values":[{}]},"mark":{"type":"text","text":"Λ","fontStyle":"italic","fontSize":29,"align":"left","baseline":"alphabetic"},"encoding":{"x":{"datum":152,"type":"quantitative"},"y":{"datum":11.2,"type":"quantitative"}}},
{"data":{"values":[{}]},"mark":{"type":"text","text":"d","fontStyle":"italic","fontSize":20,"align":"left","baseline":"alphabetic","dy":7},"encoding":{"x":{"datum":177,"type":"quantitative"},"y":{"datum":11.2,"type":"quantitative"}}}
]}
],"spacing":0}
],
"spacing":33
}
